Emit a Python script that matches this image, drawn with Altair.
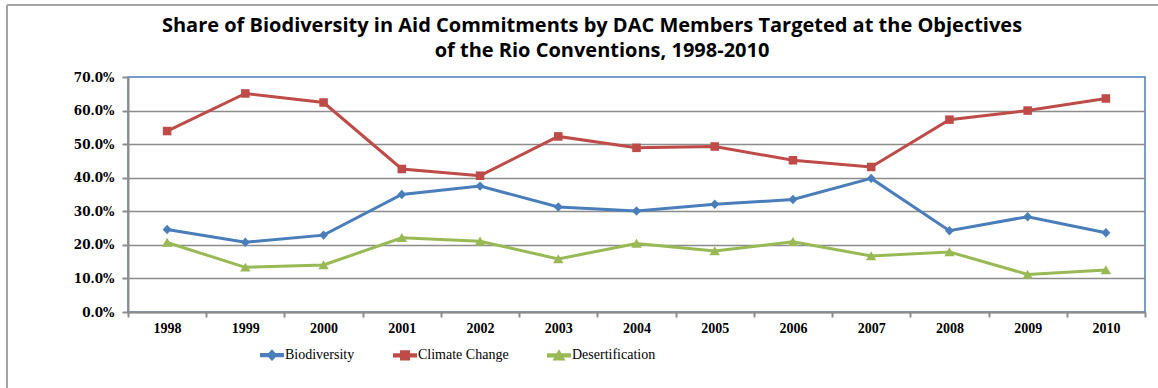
import altair as alt
import pandas as pd

years = [str(y) for y in range(1998, 2011)]
biodiversity = [24.6, 20.8, 22.9, 35.0, 37.5, 31.3, 30.1, 32.1, 33.5, 39.8, 24.2, 28.4, 23.6]
climate_change = [53.9, 65.1, 62.4, 42.6, 40.6, 52.3, 48.9, 49.3, 45.2, 43.2, 57.3, 60.0, 63.6]
desertification = [20.7, 13.3, 14.0, 22.1, 21.1, 15.8, 20.4, 18.2, 20.9, 16.7, 17.9, 11.2, 12.5]
series_names = ["Biodiversity", "Climate Change", "Desertification"]
colors = ["#4a7ebb", "#be4b48", "#98b954"]
y_ticks = [0, 10, 20, 30, 40, 50, 60, 70]
title_lines = [
    "Share of Biodiversity in Aid Commitments by DAC Members Targeted at the Objectives",
    "of the Rio Conventions, 1998-2010",
]

# marker shapes (custom paths inside the unit box)
marker_paths = [
    "M0,-0.42 L0.4,0 L0,0.42 L-0.4,0 Z",
    "M-0.38,-0.38 L0.38,-0.38 L0.38,0.38 L-0.38,0.38 Z",
    "M0,-0.42 L0.46,0.38 L-0.46,0.38 Z",
]
# legend symbols: line segment plus marker
line_bar = "M-1,-0.13 L1,-0.13 L1,0.13 L-1,0.13 Z "
legend_paths = [line_bar + p for p in marker_paths]

rows = []
for name, vals in zip(series_names, [biodiversity, climate_change, desertification]):
    for yr, v in zip(years, vals):
        rows.append({"year": yr, "series": name, "value": v})
df = pd.DataFrame(rows)

x_enc = alt.X(
    "year:N",
    sort=years,
    scale=alt.Scale(type="band", paddingInner=0, paddingOuter=0),
    axis=alt.Axis(
        title=None, labelAngle=0, tickBand="extent", tickSize=5, tickColor="#8c8c8c",
        tickWidth=2, domainColor="#8c8c8c", domainWidth=2, labelFont="Liberation Serif",
        labelFontSize=14, labelFontWeight="bold", labelColor="#000000", labelPadding=4,
    ),
)
y_enc = alt.Y(
    "value:Q",
    scale=alt.Scale(domain=[0, 70], nice=False),
    axis=alt.Axis(
        title=None, values=y_ticks, labelExpr="format(datum.value, '.1f') + '%'",
        tickSize=6, tickColor="#8c8c8c", tickWidth=2, domainColor="#8c8c8c", domainWidth=2,
        gridColor="#8c8c8c", gridWidth=1.5,
        gridOpacity={"condition": {"test": "datum.value >= 70", "value": 0}, "value": 1},
        labelFont="DejaVu Serif", labelFontSize=12, labelFontWeight="bold",
        labelColor="#000000", labelPadding=8,
    ),
)
color_scale = alt.Scale(domain=series_names, range=colors)

lines = alt.Chart(df).mark_line(strokeWidth=3).encode(
    x=x_enc, y=y_enc, color=alt.Color("series:N", scale=color_scale, legend=None)
)

point_layers = []
for name, path in zip(series_names, marker_paths):
    point_layers.append(
        alt.Chart(df)
        .transform_filter(alt.datum.series == name)
        .mark_point(filled=True, size=506, opacity=1, shape=path)
        .encode(x=x_enc, y=y_enc, color=alt.Color("series:N", scale=color_scale, legend=None))
    )

legend_props = dict(
    orient="none", legendX=132, legendY=266, direction="horizontal", title=None,
    symbolSize=506, symbolOpacity=1, labelFont="Liberation Serif", labelFontSize=14,
    labelColor="#000000", columnPadding=35, labelOffset=1, padding=0,
)
# invisible marks that only carry the legend (line + marker symbols)
legend_layer = (
    alt.Chart(df)
    .mark_point(filled=True, size=506, opacity=0)
    .encode(
        x=x_enc,
        y=y_enc,
        color=alt.Color("series:N", scale=color_scale, legend=alt.Legend(**legend_props)),
        shape=alt.Shape(
            "series:N",
            scale=alt.Scale(domain=series_names, range=legend_paths),
            legend=alt.Legend(**legend_props),
        ),
    )
)

one = pd.DataFrame({"a": [0]})
border_top = alt.Chart(one).mark_rule(color="#a6a6a6", strokeWidth=2).encode(
    x=alt.value(-121), x2=alt.value(1100), y=alt.value(-72)
)
border_left = alt.Chart(one).mark_rule(color="#a6a6a6", strokeWidth=2).encode(
    x=alt.value(-121), y=alt.value(-72), y2=alt.value(320)
)
title_style = dict(font="Open Sans", fontSize=20, fontWeight="bold", color="#000000",
                   align="center", baseline="middle")
title_1 = alt.Chart(one).mark_text(**title_style).encode(
    x=alt.value(464), y=alt.value(-51), text=alt.value(title_lines[0])
)
title_2 = alt.Chart(one).mark_text(**title_style).encode(
    x=alt.value(474), y=alt.value(-26), text=alt.value(title_lines[1])
)

chart = (
    alt.layer(border_top, border_left, title_1, title_2, legend_layer, lines, *point_layers)
    .properties(
        width=1017,
        height=235,
        autosize=alt.AutoSizeParams(type="none"),
        padding={"left": 128, "top": 77, "right": 13, "bottom": 76},
        background="#ffffff",
    )
    .configure_view(stroke="#4a7ebb", strokeWidth=1.5)
)

chart.save("out.html", embed_options={"renderer": "svg", "actions": False})
